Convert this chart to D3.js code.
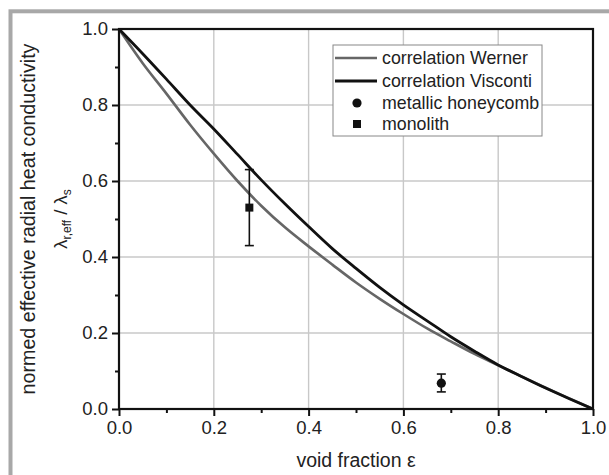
<!DOCTYPE html>
<html>
<head>
<meta charset="utf-8">
<script src="https://cdn.jsdelivr.net/npm/d3@7"></script>
<style>
html,body{margin:0;padding:0;background:#fff;}
svg{display:block;font-family:"Liberation Sans",Arial,sans-serif;}
</style>
</head>
<body>
<svg id="chart" width="609" height="475"></svg>
<script>
const epsGrid = [0,0.05,0.1,0.15,0.2,0.25,0.3,0.35,0.4,0.45,0.5,0.55,0.6,0.65,0.7,0.75,0.8,0.85,0.9,0.95,1.0];
const wernerValues = [1.0,0.91,0.83,0.748,0.672,0.60,0.535,0.478,0.428,0.38,0.333,0.29,0.25,0.212,0.178,0.145,0.115,0.085,0.056,0.028,0.0];
const viscontiValues = [1.0,0.935,0.868,0.80,0.737,0.67,0.603,0.54,0.48,0.422,0.37,0.32,0.274,0.232,0.19,0.152,0.116,0.085,0.055,0.027,0.0];
const honeycomb = [{x:0.68, y:0.068, lo:0.045, hi:0.092}];
const monolith = [{x:0.275, y:0.53, lo:0.43, hi:0.63}];
const majorTicks = [0,0.2,0.4,0.6,0.8,1.0];
const minorTicks = [0.1,0.3,0.5,0.7,0.9];
const legendLabels = ["correlation Werner","correlation Visconti","metallic honeycomb","monolith"];
const xTitle = "void fraction ε";
const yTitle = "normed effective radial heat conductivity";

const svg = d3.select("#chart");
const L = 119, R = 593, T = 29, B = 409;
const x = d3.scaleLinear().domain([0,1]).range([L,R]);
const y = d3.scaleLinear().domain([0,1]).range([B,T]);
const textCol = "#222";

// outer grey frame
svg.append("rect").attr("x",10.5).attr("y",11.3).attr("width",700).attr("height",700)
  .attr("fill","none").attr("stroke","#a8a8a8").attr("stroke-width",4);

// grid
const g = svg.append("g");
g.selectAll(".vg").data(majorTicks.slice(1,-1)).enter().append("line")
  .attr("x1",d=>x(d)).attr("x2",d=>x(d)).attr("y1",T).attr("y2",B)
  .attr("stroke","#c8c8c8").attr("stroke-width",1.4);
g.selectAll(".hg").data(majorTicks.slice(1,-1)).enter().append("line")
  .attr("y1",d=>y(d)).attr("y2",d=>y(d)).attr("x1",L).attr("x2",R)
  .attr("stroke","#c8c8c8").attr("stroke-width",1.4);

// axes
const fmt = d3.format(".1f");
const xAxis = svg.append("g").attr("transform",`translate(0,${B})`)
  .call(d3.axisBottom(x).tickValues(majorTicks).tickFormat(fmt).tickSize(7).tickPadding(5));
const xMinor = svg.append("g").attr("transform",`translate(0,${B})`)
  .call(d3.axisBottom(x).tickValues(minorTicks).tickFormat("").tickSize(4));
const yAxis = svg.append("g").attr("transform",`translate(${L},0)`)
  .call(d3.axisLeft(y).tickValues(majorTicks).tickFormat(fmt).tickSize(7).tickPadding(4));
const yMinor = svg.append("g").attr("transform",`translate(${L},0)`)
  .call(d3.axisLeft(y).tickValues(minorTicks).tickFormat("").tickSize(4));
[xAxis,xMinor,yAxis,yMinor].forEach(a=>{
  a.select(".domain").remove();
  a.selectAll(".tick line").attr("stroke","#111").attr("stroke-width",2);
  a.selectAll(".tick text").attr("fill",textCol).attr("font-size",18.5)
    .attr("font-family","'Liberation Sans',Arial,sans-serif");
});

// curves
const line = d3.line().x(d=>x(d[0])).y(d=>y(d[1])).curve(d3.curveMonotoneX);
svg.append("path").datum(epsGrid.map((e,i)=>[e,wernerValues[i]]))
  .attr("d",line).attr("fill","none").attr("stroke","#666").attr("stroke-width",2.6);
svg.append("path").datum(epsGrid.map((e,i)=>[e,viscontiValues[i]]))
  .attr("d",line).attr("fill","none").attr("stroke","#111").attr("stroke-width",2.8);

// plot frame
svg.append("rect").attr("x",L).attr("y",T).attr("width",R-L).attr("height",B-T)
  .attr("fill","none").attr("stroke","#111").attr("stroke-width",2.2);

// error bars
function errBars(data){
  const eg = svg.append("g").attr("stroke","#111").attr("stroke-width",1.6);
  data.forEach(d=>{
    eg.append("line").attr("x1",x(d.x)).attr("x2",x(d.x)).attr("y1",y(d.lo)).attr("y2",y(d.hi));
    eg.append("line").attr("x1",x(d.x)-4.5).attr("x2",x(d.x)+4.5).attr("y1",y(d.lo)).attr("y2",y(d.lo));
    eg.append("line").attr("x1",x(d.x)-4.5).attr("x2",x(d.x)+4.5).attr("y1",y(d.hi)).attr("y2",y(d.hi));
  });
}
errBars(honeycomb); errBars(monolith);
svg.selectAll(".hc").data(honeycomb).enter().append("circle")
  .attr("cx",d=>x(d.x)).attr("cy",d=>y(d.y)).attr("r",4.6).attr("fill","#111");
svg.selectAll(".mo").data(monolith).enter().append("rect")
  .attr("x",d=>x(d.x)-4).attr("y",d=>y(d.y)-4).attr("width",8).attr("height",8).attr("fill","#111");

// legend
const lg = svg.append("g");
lg.append("rect").attr("x",333).attr("y",45).attr("width",209).attr("height",91)
  .attr("fill","#fff").attr("stroke","#888").attr("stroke-width",1);
const rowsY = [58,81,103,124];
lg.append("line").attr("x1",335).attr("x2",377).attr("y1",rowsY[0]).attr("y2",rowsY[0]).attr("stroke","#666").attr("stroke-width",2.6);
lg.append("line").attr("x1",335).attr("x2",377).attr("y1",rowsY[1]).attr("y2",rowsY[1]).attr("stroke","#111").attr("stroke-width",2.8);
lg.append("circle").attr("cx",357).attr("cy",rowsY[2]).attr("r",4.6).attr("fill","#111");
lg.append("rect").attr("x",353).attr("y",rowsY[3]-4).attr("width",8).attr("height",8).attr("fill","#111");
lg.selectAll("text.lt").data(legendLabels).enter().append("text")
  .attr("x",382).attr("y",(d,i)=>rowsY[i]).attr("dy","0.36em")
  .attr("font-size",17.8).attr("fill",textCol).text(d=>d);

// axis titles
svg.append("text").attr("x",(L+R)/2).attr("y",467).attr("text-anchor","middle")
  .attr("font-size",19.5).attr("fill",textCol).text(xTitle);
svg.append("text").attr("transform","translate(35,219) rotate(-90)").attr("text-anchor","middle")
  .attr("font-size",19.7).attr("fill",textCol).text(yTitle);
const yt2 = svg.append("text").attr("transform","translate(67,219) rotate(-90)").attr("text-anchor","middle")
  .attr("font-size",18.5).attr("fill",textCol);
yt2.append("tspan").text("λ");
yt2.append("tspan").attr("font-size",12).attr("dy",4).text("r,eff");
yt2.append("tspan").attr("dy",-4).text(" / λ");
yt2.append("tspan").attr("font-size",12).attr("dy",4).text("s");
</script>
</body>
</html>
